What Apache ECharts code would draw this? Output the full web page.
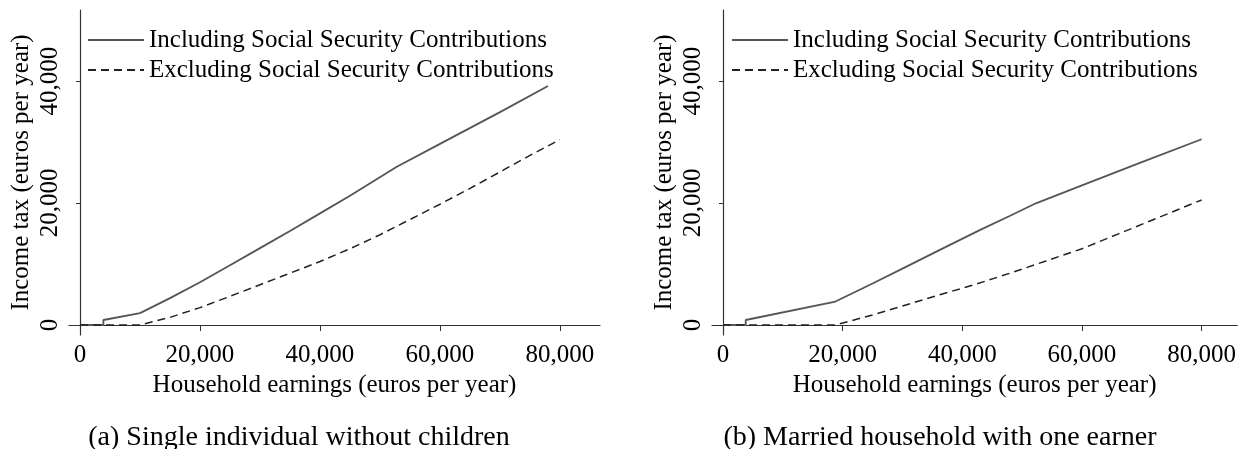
<!DOCTYPE html>
<html>
<head>
<meta charset="utf-8">
<script src="https://cdn.jsdelivr.net/npm/echarts@6/dist/echarts.min.js"></script>
<style>
  html, body { margin: 0; padding: 0; background: #fff; }
  #chart { width: 1239px; height: 449px; }
</style>
</head>
<body>
<div id="chart"></div>
<script>
// (a) single individual without children
var singleInclEarn = [0, 3900, 3900, 10000, 15000, 20000, 25000, 30000, 35000, 40000, 45000, 52800, 60000, 70000, 78000];
var singleInclTax = [0, 0, 820, 1950, 4400, 7000, 9800, 12600, 15400, 18300, 21200, 25950, 29700, 34900, 39180];
var singleExclEarn = [0, 10000, 15000, 20000, 25000, 30000, 35000, 40000, 45000, 50000, 55000, 60000, 65000, 70000, 75000, 80000];
var singleExclTax = [0, 0, 1250, 2850, 4700, 6600, 8500, 10400, 12500, 14800, 17300, 19800, 22400, 25100, 27800, 30400];

// (b) married household with one earner
var marriedInclEarn = [0, 3800, 3800, 18800, 25000, 30000, 36000, 43000, 48000, 52300, 60000, 70000, 80000];
var marriedInclTax = [0, 0, 820, 3850, 6800, 9250, 12200, 15600, 17900, 19950, 22900, 26700, 30450];
var marriedExclEarn = [0, 18800, 25000, 30000, 36000, 42000, 48000, 54000, 60000, 66000, 72000, 80000];
var marriedExclTax = [0, 0, 1650, 3100, 4900, 6600, 8500, 10500, 12500, 14900, 17300, 20500];

var xTicks = [0, 20000, 40000, 60000, 80000];
var yTicks = [0, 20000, 40000];

var inclName = 'Including Social Security Contributions';
var exclName = 'Excluding Social Security Contributions';
var captions = ['(a) Single individual without children', '(b) Married household with one earner'];

var FONT = '"Liberation Serif", "Times New Roman", serif';
var axisColor = '#333';

function pairs(xs, ys) {
  return xs.map(function (x, i) { return [x, ys[i]]; });
}
function fmt(v) { return Number(v).toLocaleString('en-US'); }

function xAxisFor(idx, maxVal) {
  return {
    type: 'value', gridIndex: idx, min: -1833, max: maxVal,
    name: 'Household earnings (euros per year)',
    nameLocation: 'middle', nameGap: 34,
    nameTextStyle: { fontFamily: FONT, fontSize: 25, color: '#000' },
    axisLine: { show: true, lineStyle: { color: axisColor, width: 1.2 } },
    axisTick: { show: true, length: 6, customValues: xTicks, lineStyle: { color: axisColor } },
    axisLabel: { customValues: xTicks, formatter: fmt, margin: 8, fontFamily: FONT, fontSize: 25, color: '#000' },
    splitLine: { show: false }
  };
}
function yAxisFor(idx) {
  return {
    type: 'value', gridIndex: idx, min: -1640, max: 51640,
    name: 'Income tax (euros per year)',
    nameLocation: 'middle', nameGap: 35, nameRotate: 90,
    nameTextStyle: { fontFamily: FONT, fontSize: 25, color: '#000' },
    axisLine: { show: true, lineStyle: { color: axisColor, width: 1.2 } },
    axisTick: { show: true, length: 4, customValues: yTicks, lineStyle: { color: axisColor } },
    axisLabel: { customValues: yTicks, formatter: fmt, rotate: 90, margin: 6, fontFamily: FONT, fontSize: 25, color: '#000' },
    splitLine: { show: false }
  };
}
function legendFor(left) {
  return {
    left: left, top: 20, orient: 'vertical',
    itemWidth: 56, itemHeight: 14, itemGap: 0,
    data: [inclName, exclName],
    itemStyle: { opacity: 0 },
    textStyle: { fontFamily: FONT, fontSize: 25, color: '#000', lineHeight: 30 }
  };
}
function lineSeries(name, idx, data, dashed) {
  var c = dashed ? '#222' : '#555';
  return {
    name: name, type: 'line', xAxisIndex: idx, yAxisIndex: idx,
    data: data, symbol: 'none', animation: false,
    itemStyle: { color: c },
    lineStyle: dashed ? { color: c, width: 1.5, type: [8, 5] } : { color: c, width: 1.8 }
  };
}

var chart = echarts.init(document.getElementById('chart'));
chart.setOption({
  backgroundColor: '#fff',
  animation: false,
  title: [
    { text: captions[0], left: 294, top: 419, textAlign: 'center',
      textStyle: { fontFamily: FONT, fontSize: 28, fontWeight: 'normal', color: '#000' } },
    { text: captions[1], left: 935, top: 419, textAlign: 'center',
      textStyle: { fontFamily: FONT, fontSize: 28, fontWeight: 'normal', color: '#000' } }
  ],
  legend: [legendFor(82), legendFor(726)],
  grid: [
    { left: 69, right: 639, top: 10, bottom: 114 },
    { left: 712, right: 0, top: 10, bottom: 114 }
  ],
  xAxis: [xAxisFor(0, 86667), xAxisFor(1, 85950)],
  yAxis: [yAxisFor(0), yAxisFor(1)],
  series: [
    lineSeries(inclName, 0, pairs(singleInclEarn, singleInclTax), false),
    lineSeries(exclName, 0, pairs(singleExclEarn, singleExclTax), true),
    lineSeries(inclName, 1, pairs(marriedInclEarn, marriedInclTax), false),
    lineSeries(exclName, 1, pairs(marriedExclEarn, marriedExclTax), true)
  ]
});
</script>
</body>
</html>
